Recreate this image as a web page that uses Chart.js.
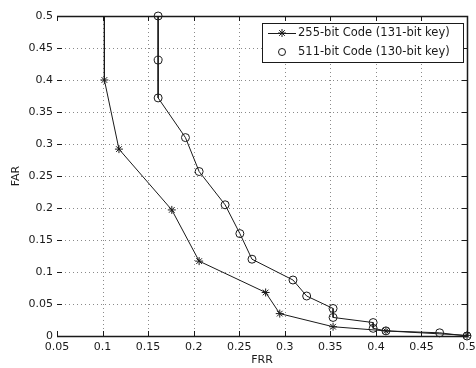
<!DOCTYPE html>
<html>
<head>
<meta charset="utf-8">
<script src="https://cdn.jsdelivr.net/npm/chart.js@4/dist/chart.umd.min.js"></script>
<style>
html,body{margin:0;padding:0;background:#fff;}
#wrap{width:476px;height:368px;position:relative;}
</style>
</head>
<body>
<div id="wrap"><canvas id="c" width="476" height="368"></canvas></div>
<script>
// ---- data ----
const xTickValues = [0.05,0.1,0.15,0.2,0.25,0.3,0.35,0.4,0.45,0.5];
const xTickLabels = ['0.05','0.1','0.15','0.2','0.25','0.3','0.35','0.4','0.45','0.5'];
const yTickValues = [0,0.05,0.1,0.15,0.2,0.25,0.3,0.35,0.4,0.45,0.5];
const yTickLabels = ['0','0.05','0.1','0.15','0.2','0.25','0.3','0.35','0.4','0.45','0.5'];

const seriesNames = ['255-bit Code (131-bit key)','511-bit Code (130-bit key)'];
const frr255 = [0.102,0.102,0.118,0.176,0.206,0.279,0.2945,0.353,0.411,0.5];
const far255 = [0.5,0.4,0.292,0.197,0.117,0.068,0.035,0.0145,0.008,0.001];
const frr511 = [0.161,0.161,0.161,0.191,0.206,0.2345,0.2507,0.264,0.309,0.324,0.353,0.353,0.397,0.397,0.411,0.47,0.5];
const far511 = [0.5,0.431,0.372,0.31,0.257,0.205,0.160,0.12,0.0875,0.0625,0.043,0.029,0.021,0.012,0.008,0.005,0.0];

const toPts = (xs, ys) => xs.map((x,i)=>({x:x,y:ys[i]}));

const FONT = 'DejaVu Sans';
const INK = '#1a1a1a';

const frame = {
  id:'frame',
  beforeDatasetsDraw(chart){
    const {ctx, chartArea:a, scales:{x,y}} = chart;
    ctx.save();
    ctx.strokeStyle = '#8a8a8a';
    ctx.lineWidth = 1;
    ctx.setLineDash([1,3]);
    xTickValues.forEach(v=>{
      const px = Math.round(x.getPixelForValue(v))+0.5;
      if (px < a.left+2 || px > a.right-2) return;
      ctx.beginPath(); ctx.moveTo(px,a.top); ctx.lineTo(px,a.bottom); ctx.stroke();
    });
    yTickValues.forEach(v=>{
      const py = Math.round(y.getPixelForValue(v))+0.5;
      if (py < a.top+2 || py > a.bottom-2) return;
      ctx.beginPath(); ctx.moveTo(a.left,py); ctx.lineTo(a.right,py); ctx.stroke();
    });
    ctx.setLineDash([]);
    ctx.strokeStyle = INK;
    // inward ticks
    const L = 5;
    xTickValues.forEach(v=>{
      const px = Math.round(x.getPixelForValue(v))+0.5;
      ctx.beginPath(); ctx.moveTo(px,a.bottom); ctx.lineTo(px,a.bottom-L); ctx.stroke();
      ctx.beginPath(); ctx.moveTo(px,a.top); ctx.lineTo(px,a.top+L); ctx.stroke();
    });
    yTickValues.forEach(v=>{
      const py = Math.round(y.getPixelForValue(v))+0.5;
      ctx.beginPath(); ctx.moveTo(a.left,py); ctx.lineTo(a.left+L,py); ctx.stroke();
      ctx.beginPath(); ctx.moveTo(a.right,py); ctx.lineTo(a.right-L,py); ctx.stroke();
    });
    // box: top, right, bottom
    ctx.lineWidth = 1.5;
    ctx.beginPath();
    ctx.moveTo(a.left, a.top+0.5); ctx.lineTo(a.right+0.5, a.top+0.5);
    ctx.lineTo(a.right+0.5, a.bottom+0.5); ctx.lineTo(a.left, a.bottom+0.5);
    ctx.stroke();
    ctx.restore();
  },
  afterDraw(chart){
    const {ctx} = chart;
    ctx.save();
    const bx=262, by=23, bw=201, bh=39;
    ctx.fillStyle='#fff';
    ctx.fillRect(bx,by,bw,bh);
    ctx.strokeStyle=INK; ctx.lineWidth=1;
    ctx.strokeRect(bx+0.5,by+0.5,bw,bh);
    ctx.font = '11.5px "'+FONT+'"';
    ctx.textBaseline='middle';
    ctx.fillStyle=INK;
    const rows=[33,52];
    ctx.beginPath(); ctx.moveTo(268,rows[0]+0.5); ctx.lineTo(296,rows[0]+0.5); ctx.stroke();
    const r=4;
    ctx.beginPath();
    for(let k=0;k<4;k++){
      const ang=k*Math.PI/4;
      ctx.moveTo(282-r*Math.cos(ang),rows[0]-r*Math.sin(ang));
      ctx.lineTo(282+r*Math.cos(ang),rows[0]+r*Math.sin(ang));
    }
    ctx.stroke();
    ctx.fillText(seriesNames[0],298,rows[0]+0.5);
    ctx.beginPath(); ctx.arc(282,rows[1],3.5,0,Math.PI*2); ctx.stroke();
    ctx.fillText(seriesNames[1],298,rows[1]+0.5);
    ctx.restore();
  }
};

new Chart(document.getElementById('c'),{
  type:'scatter',
  data:{
    datasets:[
      {label:seriesNames[0], data:toPts(frr255,far255), showLine:true,
       borderColor:INK, backgroundColor:'rgba(0,0,0,0)', borderWidth:1,
       pointStyle:'star', pointRadius:(c)=>c.dataIndex===0?0:4, pointBorderWidth:1,
       pointBorderColor:INK, clip:false, tension:0},
      {label:seriesNames[1], data:toPts(frr511,far511), showLine:true,
       borderColor:INK, backgroundColor:'rgba(0,0,0,0)', borderWidth:1,
       pointStyle:'circle', pointRadius:4, pointBorderWidth:1,
       pointBorderColor:INK, clip:false, tension:0}
    ]
  },
  options:{
    responsive:false, animation:false, devicePixelRatio:1,
    layout:{padding:{top:16,right:9,left:0,bottom:0}},
    plugins:{legend:{display:false}, tooltip:{enabled:false}},
    scales:{
      x:{
        type:'linear', min:0.05, max:0.5,
        afterBuildTicks:(s)=>{s.ticks = xTickValues.map(v=>({value:v}));},
        afterFit:(s)=>{s.height=32; s.paddingLeft=0; s.paddingRight=0;},
        grid:{display:false, drawTicks:false},
        border:{display:false},
        ticks:{padding:5, color:INK, font:{family:FONT,size:11},
               callback:(v,i)=>xTickLabels[i], maxRotation:0, autoSkip:false},
        title:{display:true, text:'FRR', color:INK, font:{family:FONT,size:11},
               padding:{top:0,bottom:1}}
      },
      y:{
        type:'linear', min:0, max:0.5,
        afterBuildTicks:(s)=>{s.ticks = yTickValues.map(v=>({value:v}));},
        afterFit:(s)=>{s.width=57; s.paddingTop=0; s.paddingBottom=0;},
        grid:{display:false, drawTicks:false},
        border:{display:false},
        ticks:{padding:4, color:INK, font:{family:FONT,size:11},
               callback:(v,i)=>yTickLabels[i], autoSkip:false},
        title:{display:true, text:'FAR', color:INK, font:{family:FONT,size:11},
               padding:{top:10,bottom:0}}
      }
    }
  },
  plugins:[frame]
});
</script>
</body>
</html>
